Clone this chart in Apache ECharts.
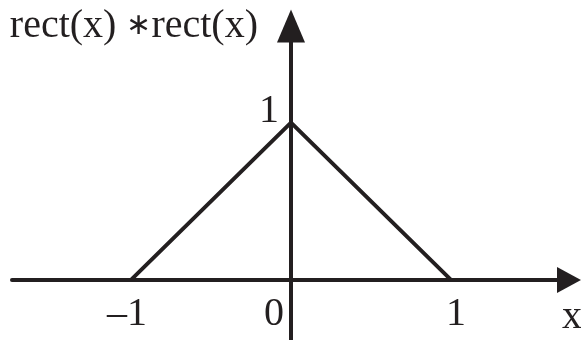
<!DOCTYPE html>
<html>
<head>
<meta charset="utf-8">
<script src="https://cdn.jsdelivr.net/npm/echarts@6/dist/echarts.min.js"></script>
<style>
    html, body { margin: 0; padding: 0; background: #fff; }
    #chart { width: 581px; height: 340px; }
</style>
</head>
<body>
<div id="chart"></div>
<script>
    // triangle = rect(x) * rect(x)
    const xValues = [-1, 0, 1];
    const yValues = [0, 1, 0];
    const xTicks = [-1, 0, 1];
    const xTickLabels = ['\u20131', '0', '1'];
    const yTicks = [1];
    const yTickLabels = ['1'];
    const xName = 'x';
    const yName = 'rect(x) {op|\u2217}rect(x)';

    const ink = '#231f20';
    const font = 'Liberation Serif';

    const chart = echarts.init(document.getElementById('chart'));
    chart.setOption({
        animation: false,
        grid: {
            left: 12,
            right: 12,
            top: 26,
            bottom: 0,
            containLabel: false,
            outerBoundsMode: 'none'
        },
        xAxis: {
            type: 'value',
            min: -1.74375,
            max: 1.7375,
            offset: -60, // line sits at y=0
            splitLine: { show: false },
            axisTick: { show: false },
            axisLine: {
                onZero: false,
                lineStyle: { color: ink, width: 4 },
                symbol: ['none', 'triangle'],
                symbolSize: [26, 24]
            },
            axisLabel: {
                customValues: xTicks,
                margin: 14,
                color: ink,
                fontFamily: font,
                fontSize: 40,
                formatter: function (v) {
                    const t = xTickLabels[xTicks.indexOf(v)];
                    if (v === 0) return '{z|' + t + '}';
                    if (v < 0) return '{n|' + t + '}';
                    return '{p|' + t + '}';
                },
                rich: {
                    z: { fontFamily: font, fontSize: 40, color: ink, padding: [0, 34, 0, 0] },
                    n: { fontFamily: font, fontSize: 40, color: ink, padding: [0, 8, 0, 0] },
                    p: { fontFamily: font, fontSize: 40, color: ink, padding: [0, 0, 0, 10] }
                }
            },
            name: xName,
            nameLocation: 'end',
            nameGap: -7,
            nameTextStyle: {
                color: ink,
                fontFamily: font,
                fontSize: 40,
                verticalAlign: 'top',
                padding: [17, 0, 0, 0]
            }
        },
        yAxis: {
            type: 'value',
            min: -0.3822,
            max: 1.6146,
            offset: -279, // line sits at x=0
            splitLine: { show: false },
            axisTick: { show: false },
            axisLine: {
                onZero: false,
                lineStyle: { color: ink, width: 4 },
                symbol: ['none', 'triangle'],
                symbolSize: [28, 33]
            },
            axisLabel: {
                customValues: yTicks,
                margin: 12,
                color: ink,
                fontFamily: font,
                fontSize: 40,
                formatter: function (v) {
                    return '{a|' + yTickLabels[yTicks.indexOf(v)] + '}';
                },
                rich: {
                    a: { fontFamily: font, fontSize: 40, color: ink, padding: [0, 0, 22, 0] }
                }
            },
            name: yName,
            nameLocation: 'end',
            nameGap: -20,
            nameTextStyle: {
                color: ink,
                fontFamily: font,
                fontSize: 40,
                align: 'right',
                padding: [0, 33, 0, 0],
                rich: {
                    op: { fontFamily: font, fontSize: 30, color: ink }
                }
            }
        },
        series: [{
            type: 'line',
            data: xValues.map((x, i) => [x, yValues[i]]),
            showSymbol: false,
            lineStyle: { color: ink, width: 4 }
        }]
    });
</script>
</body>
</html>
